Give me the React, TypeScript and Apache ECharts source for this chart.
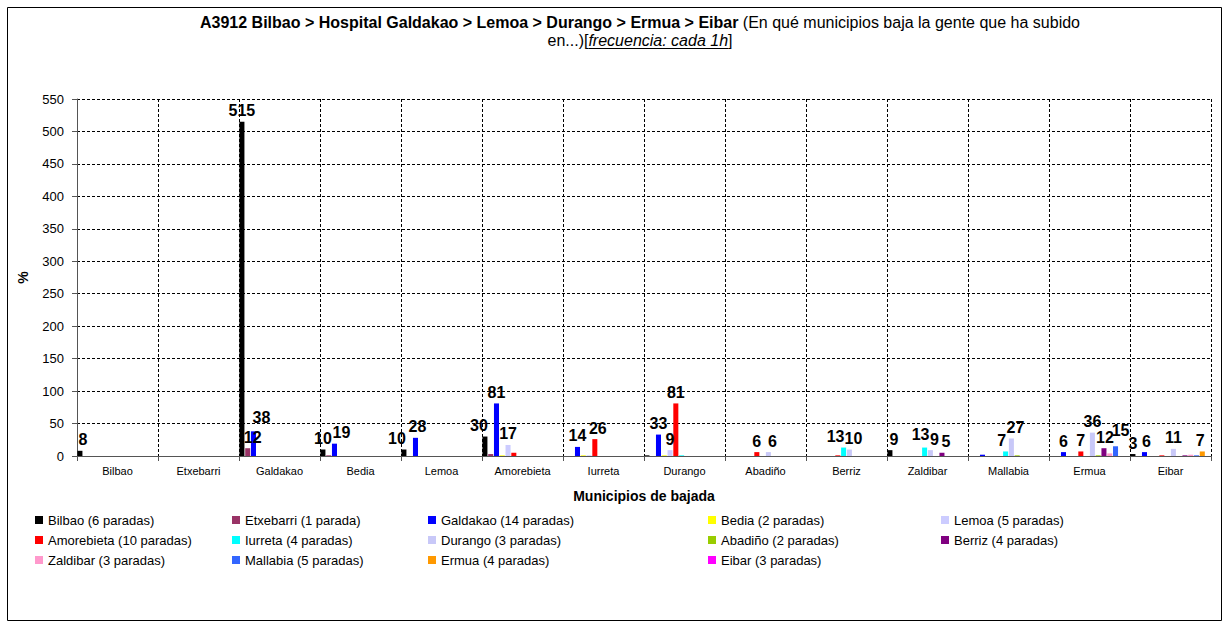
import React, { useEffect, useRef } from "react";
import * as echarts from "echarts";

const categories = ["Bilbao", "Etxebarri", "Galdakao", "Bedia", "Lemoa", "Amorebieta", "Iurreta", "Durango", "Abadiño", "Berriz", "Zaldibar", "Mallabia", "Ermua", "Eibar"];

const seriesNames = ["Bilbao (6 paradas)", "Etxebarri (1 parada)", "Galdakao (14 paradas)", "Bedia (2 paradas)", "Lemoa (5 paradas)", "Amorebieta (10 paradas)", "Iurreta (4 paradas)", "Durango (3 paradas)", "Abadiño (2 paradas)", "Berriz (4 paradas)", "Zaldibar (3 paradas)", "Mallabia (5 paradas)", "Ermua (4 paradas)", "Eibar (3 paradas)"];

const seriesColors = ["#000000", "#993366", "#0000FF", "#FFFF00", "#CCCCFF", "#FF0000", "#00FFFF", "#C8C8F8", "#99CC00", "#800080", "#FF99CC", "#3366FF", "#FF9900", "#FF00FF"];

const bilbao = [8, 0, 515, 10, 10, 30, 0, 1, 0, 0, 9, 0, 0, 3];
const etxebarri = [0, 0, 12, 1, 0, 3, 0, 0, 0, 0, 0, 0, 0, 0];
const galdakao = [0, 0, 38, 19, 28, 81, 14, 33, 0, 0, 0, 2, 6, 6];
const bedia = [0, 0, 0, 0, 0, 1, 1, 1, 0, 0, 0, 0, 0, 0];
const lemoa = [0, 0, 0, 0, 0, 17, 1, 9, 0, 0, 0, 0, 0, 0];
const amorebieta = [0, 0, 0, 0, 0, 5, 26, 81, 6, 1, 0, 0, 7, 1];
const iurreta = [0, 0, 0, 0, 0, 0, 0, 1, 0, 13, 13, 7, 0, 0];
const durango = [0, 0, 0, 0, 0, 0, 0, 0, 6, 10, 9, 27, 36, 11];
const abadino = [0, 0, 0, 0, 0, 0, 0, 0, 0, 0, 0, 1, 1, 0];
const berriz = [0, 0, 0, 0, 0, 0, 0, 0, 0, 0, 5, 0, 12, 1];
const zaldibar = [0, 0, 0, 0, 0, 0, 0, 0, 0, 0, 0, 0, 4, 2];
const mallabia = [0, 0, 0, 0, 0, 0, 0, 0, 0, 0, 0, 0, 15, 1];
const ermua = [0, 0, 0, 0, 0, 0, 0, 0, 0, 0, 0, 0, 0, 7];
const eibar = [0, 0, 0, 0, 0, 0, 0, 0, 0, 0, 0, 0, 0, 0];

const seriesValues = [bilbao, etxebarri, galdakao, bedia, lemoa, amorebieta, iurreta, durango, abadino, berriz, zaldibar, mallabia, ermua, eibar];

// category indices whose value label is shown, per series
const labelledBilbao = [0, 2, 3, 4, 5, 10, 13];
const labelledEtxebarri = [2];
const labelledGaldakao = [2, 3, 4, 5, 6, 7, 12, 13];
const labelledLemoa = [5, 7];
const labelledAmorebieta = [6, 7, 8, 12];
const labelledIurreta = [9, 10, 11];
const labelledDurango = [8, 9, 10, 11, 12, 13];
const labelledBerriz = [10, 12];
const labelledMallabia = [12];
const labelledErmua = [13];
const labelled = [labelledBilbao, labelledEtxebarri, labelledGaldakao, [], labelledLemoa, labelledAmorebieta, labelledIurreta, labelledDurango, [], labelledBerriz, [], labelledMallabia, labelledErmua, []];

// label nudges (style only): "series-category" -> [dx, dy] in px
const labelNudge: Record<string, [number, number]> = {
  "0-0": [3, 0],
  "1-2": [5, 0],
  "2-2": [8, -3],
  "2-3": [7, 0],
  "0-4": [-7, 0],
  "2-4": [2, 0],
  "0-5": [-6, 0],
  "5-6": [3, 0],
  "7-8": [4, 0],
  "6-9": [-8, 0],
  "7-9": [4, 0],
  "0-10": [4, 0],
  "6-10": [-4, -2],
  "7-10": [4, 0],
  "9-10": [4, 0],
  "6-11": [-4, 0],
  "7-11": [4, 0],
  "9-12": [1, 0],
  "11-12": [5, -5],
  "2-13": [2, 0],
  "12-13": [-2, 0],
};

const yTicks = { min: 0, max: 550, interval: 50 };

const legendColumns = [
  { left: 35, items: [0, 5, 10] },
  { left: 232, items: [1, 6, 11] },
  { left: 428, items: [2, 7, 12] },
  { left: 708, items: [3, 8, 13] },
  { left: 941, items: [4, 9] },
];

const FONT = "'Liberation Sans', Arial, sans-serif";
const TITLE_SIZE = 16;
const titleLine1Bold = "A3912 Bilbao > Hospital Galdakao > Lemoa > Durango > Ermua > Eibar";
const titleLine1Normal = " (En qué municipios baja la gente que ha subido";
const titleLine2Pre = "en...)[";
const titleLine2Italic = "frecuencia: cada 1h";
const titleLine2Post = "]";

function measure(text: string, font: string): number {
  const c = document.createElement("canvas").getContext("2d");
  if (!c) return text.length * 7;
  c.font = font;
  return c.measureText(text).width;
}

export default function App() {
  const ref = useRef<HTMLDivElement>(null);
  useEffect(() => {
    if (!ref.current) return;
    const chart = echarts.init(ref.current, null, { renderer: "svg" });
    const series = seriesValues.map((vals, s) => ({
      name: seriesNames[s],
      type: "bar",
      barGap: "15%",
      barCategoryGap: "1%",
      itemStyle: { color: seriesColors[s] },
      label: {
        show: false,
        position: "top",
        distance: 3,
        fontFamily: FONT,
        fontWeight: "bold",
        fontSize: 16,
        color: "#000",
      },
      data: vals.map((v, i) => {
        const nudge = labelNudge[s + "-" + i] || [0, 0];
        return { value: v, label: { show: labelled[s].includes(i), offset: nudge } };
      }),
    }));

    const normalFont = `${TITLE_SIZE}px ${FONT}`;
    const italicFont = `italic ${TITLE_SIZE}px ${FONT}`;
    const wPre = measure(titleLine2Pre, normalFont);
    const wIt = measure(titleLine2Italic, italicFont);
    const wPost = measure(titleLine2Post, normalFont);
    const line2Start = 640 - (wPre + wIt + wPost) / 2;
    const ulX1 = line2Start + wPre;
    const ulX2 = ulX1 + wIt;

    chart.setOption({
      animation: false,
      backgroundColor: "#fff",
      textStyle: { fontFamily: FONT },
      grid: { left: 77, top: 99, right: 18, bottom: 171, containLabel: false },
      legend: legendColumns.map((c) => ({
        orient: "vertical",
        left: c.left,
        top: 510,
        padding: 0,
        itemGap: 0,
        itemWidth: 8,
        itemHeight: 8,
        icon: "rect",
        selectedMode: false,
        textStyle: { fontFamily: FONT, fontSize: 13, color: "#000", lineHeight: 20 },
        data: c.items.map((i) => seriesNames[i]),
      })),
      xAxis: {
        type: "category",
        data: categories,
        name: "Municipios de bajada",
        nameLocation: "middle",
        nameGap: 33,
        nameTextStyle: { fontFamily: FONT, fontWeight: "bold", fontSize: 14, color: "#000" },
        axisLine: { lineStyle: { color: "#555", width: 1 } },
        axisTick: { show: true, length: 5, lineStyle: { color: "#555" } },
        axisLabel: { fontFamily: FONT, fontSize: 11, color: "#000", margin: 9, interval: 0 },
        splitLine: { show: true, lineStyle: { color: "#000", type: [3, 2], width: 1 } },
      },
      yAxis: {
        type: "value",
        min: yTicks.min,
        max: yTicks.max,
        interval: yTicks.interval,
        name: "%",
        nameLocation: "middle",
        nameGap: 47,
        nameRotate: 90,
        nameTextStyle: { fontFamily: FONT, fontWeight: "bold", fontSize: 14, color: "#000" },
        axisLine: { show: true, lineStyle: { color: "#555", width: 1 } },
        axisTick: { show: true, length: 5, lineStyle: { color: "#555" } },
        axisLabel: { fontFamily: FONT, fontSize: 13, color: "#000", margin: 13 },
        splitLine: { show: true, lineStyle: { color: "#000", type: [3, 2], width: 1 } },
      },
      graphic: [
        {
          type: "rect",
          shape: { x: 7.5, y: 7.5, width: 1214, height: 613 },
          style: { fill: "none", stroke: "#000", lineWidth: 1 },
          silent: true,
        },
        {
          type: "text",
          x: 640,
          y: 13,
          style: {
            text: `{b|${titleLine1Bold}}{n|${titleLine1Normal}}\n{n|${titleLine2Pre}}{i|${titleLine2Italic}}{n|${titleLine2Post}}`,
            align: "center",
            verticalAlign: "top",
            rich: {
              b: { fontFamily: FONT, fontWeight: "bold", fontSize: TITLE_SIZE, color: "#000", lineHeight: 18 },
              n: { fontFamily: FONT, fontSize: TITLE_SIZE, color: "#000", lineHeight: 18 },
              i: { fontFamily: FONT, fontStyle: "italic", fontSize: TITLE_SIZE, color: "#000", lineHeight: 18 },
            },
          },
        },
        {
          type: "line",
          shape: { x1: ulX1, y1: 48.5, x2: ulX2, y2: 48.5 },
          style: { stroke: "#000", lineWidth: 1 },
        },
      ],
      series,
    });
    return () => chart.dispose();
  }, []);
  return <div ref={ref} style={{ position: "absolute", left: 0, top: 0, width: 1229, height: 627 }} />;
}
